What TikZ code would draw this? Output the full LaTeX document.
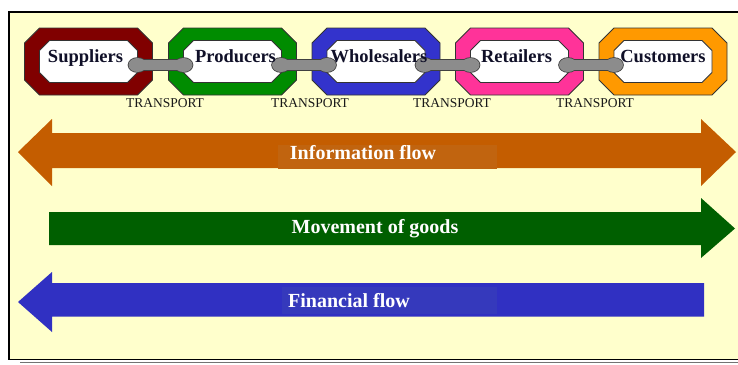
\documentclass[tikz,border=0pt]{standalone}
\usepackage{fontspec}
\setmainfont{Liberation Serif}
\usetikzlibrary{calc}

\definecolor{paper}{HTML}{FFFFCC}
\definecolor{supc}{HTML}{800000}
\definecolor{proc}{HTML}{008C00}
\definecolor{whoc}{HTML}{3333CC}
\definecolor{retc}{HTML}{FF3399}
\definecolor{cusc}{HTML}{FF9900}
\definecolor{linkc}{HTML}{8C8C8C}
\definecolor{infoc}{HTML}{C45D00}
\definecolor{infobg}{HTML}{C1640F}
\definecolor{goodsc}{HTML}{005F00}
\definecolor{finc}{HTML}{3030C2}
\definecolor{finbg}{HTML}{3539BC}
\definecolor{ink}{HTML}{101028}

% octagon drawn on the bounding box of a named node: node, cut, style
\newcommand\chamferbox[3]{%
  \path[#3] ($(#1.north west)+(#2,0)$) -- ($(#1.north east)+(-#2,0)$)
    -- ($(#1.north east)+(0,-#2)$) -- ($(#1.south east)+(0,#2)$)
    -- ($(#1.south east)+(-#2,0)$) -- ($(#1.south west)+(#2,0)$)
    -- ($(#1.south west)+(0,#2)$) -- ($(#1.north west)+(0,-#2)$) -- cycle;}

% one chain link: two rounded ends joined by a bar
\newcommand\linkparts[2]{%
  \path[#2] ($(#1)+(-23pt,0)$) ellipse [x radius=9pt, y radius=7pt];
  \path[#2] ($(#1)+(23pt,0)$) ellipse [x radius=9pt, y radius=7pt];
  \path[#2] ($(#1)+(-23pt,-5pt)$) rectangle ($(#1)+(23pt,5pt)$);}
\newcommand\chainlink[1]{%
  \linkparts{#1}{draw=black!75, line width=1.6pt}%
  \linkparts{#1}{fill=linkc}}

\tikzset{
  slot/.style={inner sep=0pt, outer sep=0pt, minimum width=128pt, minimum height=67pt},
  hole/.style={inner sep=0pt, outer sep=0pt, minimum width=98pt, minimum height=42pt},
  ring/.style={draw=black!80, line width=0.8pt},
  stagename/.style={font=\fontsize{18.5}{20}\selectfont\bfseries, anchor=base, text=ink, inner sep=0pt},
  transport/.style={font=\fontsize{13.5}{14}\selectfont, anchor=base, text=black!90, inner sep=0pt},
  flowtext/.style={font=\fontsize{20}{22}\selectfont\bfseries, text=white, inner sep=0pt},
}

\begin{document}
\begin{tikzpicture}[x=1pt, y=-1pt]
\useasboundingbox (0,0) rectangle (738,364);

% panel
\fill[paper] (9,12) rectangle (738,360);
\draw[black!55, line width=1.5pt] (20,362.5) -- (738,362.5);
\draw[black, line width=1.8pt] (738,12) -- (9,12) -- (9,359.5) -- (738,359.5);

% stages
\foreach \n/\x/\c in {sup/88.5/supc, pro/232.5/proc, who/376/whoc, ret/519.5/retc, cus/663/cusc} {
  \node[slot] (\n) at (\x,61.5) {};
  \node[hole] (\n-in) at (\x,61.5) {};
  \chamferbox{\n}{15pt}{ring, fill=\c}
  \chamferbox{\n-in}{10pt}{ring, fill=white}
}

% links
\coordinate (l1) at (160.5,65);
\coordinate (l2) at (304,65);
\coordinate (l3) at (447.5,65);
\coordinate (l4) at (591,65);
\chainlink{l1}
\chainlink{l2}
\chainlink{l3}
\chainlink{l4}

% stage names
\node[stagename] (sup-t) at (85.5,62) {Suppliers};
\node[stagename] (pro-t) at (235.5,62) {Producers};
\node[stagename] (who-t) at (379,62) {Wholesalers};
\node[stagename] (ret-t) at (516.5,62) {Retailers};
\node[stagename] (cus-t) at (663,62) {Customers};

% transport labels
\node[transport] (t1) at (165,107.3) {TRANSPORT};
\node[transport] (t2) at (310,107.3) {TRANSPORT};
\node[transport] (t3) at (452,107.3) {TRANSPORT};
\node[transport] (t4) at (595,107.3) {TRANSPORT};

% information flow (both ways)
\fill[infoc] (18,152) -- (52,119) -- (52,133) -- (701,133) -- (701,119) -- (736,152)
  -- (701,186) -- (701,168) -- (52,168) -- (52,186) -- cycle;
\fill[infobg] (278,145) rectangle (497,169);
\node[flowtext] (info) at (363,153) {Information flow};

% movement of goods
\fill[goodsc] (49,212) -- (701,212) -- (701,198) -- (735,228.5) -- (701,258)
  -- (701,245) -- (49,245) -- cycle;
\node[flowtext] (goods) at (375,228.5) {Movement of goods};

% financial flow
\fill[finc] (18,302) -- (52,272) -- (52,283) -- (704,283) -- (704,316.5) -- (52,316.5)
  -- (52,332) -- cycle;
\fill[finbg] (282,287) rectangle (497,314);
\node[flowtext] (fin) at (349,301) {Financial flow};
\end{tikzpicture}
\end{document}
